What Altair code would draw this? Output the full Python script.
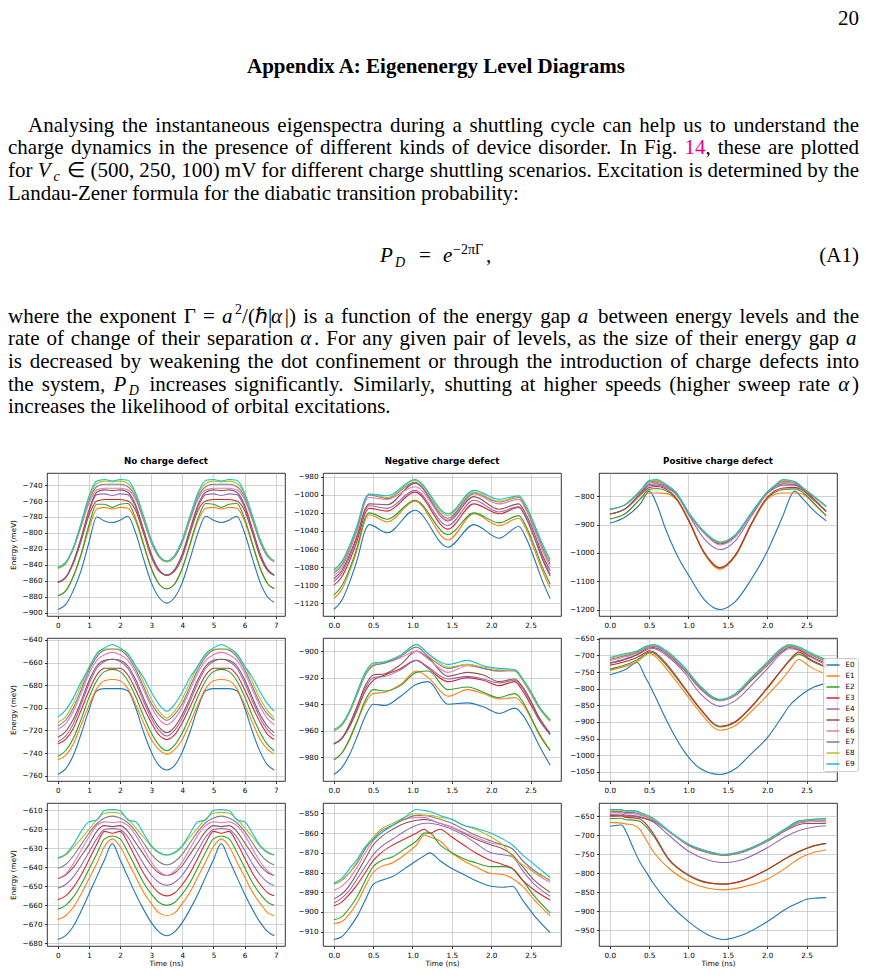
import re
import altair as alt
import pandas as pd

# ------------------------------------------------------------------ data
LEVELS = ["E0", "E1", "E2", "E3", "E4", "E5", "E6", "E7", "E8", "E9"]
COLORS = ["#1f77b4", "#ff7f0e", "#2ca02c", "#d62728", "#9467bd",
          "#8c564b", "#e377c2", "#7f7f7f", "#bcbd22", "#17becf"]
PANEL_TITLES = ["No charge defect", "Negative charge defect", "Positive charge defect"]

X_TICKS_LONG = [0, 1, 2, 3, 4, 5, 6, 7]
X_TICKS_SHORT = [0.0, 0.5, 1.0, 1.5, 2.0, 2.5]

# time samples (ns)
T_NO = [0, 0.25, 0.5, 0.75, 1.0, 1.25, 1.5, 1.75, 2.0, 2.25, 2.5, 2.75, 3.0, 3.25, 3.5,
        3.75, 4.0, 4.25, 4.5, 4.75, 5.0, 5.25, 5.5, 5.75, 6.0, 6.25, 6.5, 6.75, 6.95]
T2 = [0, 0.1, 0.2, 0.3, 0.4, 0.45, 0.68, 1.03, 1.45, 1.78, 2.1, 2.35, 2.45, 2.55, 2.65, 2.75]
T3 = [0, 0.2, 0.4, 0.5, 0.6, 0.7, 0.85, 1.0, 1.2, 1.4, 1.6, 1.8, 2.0, 2.1, 2.2, 2.35, 2.45, 2.6, 2.75]
T5 = [0, 0.1, 0.2, 0.3, 0.4, 0.5, 0.65, 0.85, 1.05, 1.2, 1.45, 1.7, 1.9, 2.1, 2.3, 2.4, 2.5, 2.6, 2.75]
T6 = [0, 0.2, 0.35, 0.45, 0.5, 0.55, 0.6, 0.72, 0.95, 1.15, 1.4, 1.6, 1.8, 2.0, 2.2, 2.28, 2.4, 2.55, 2.75]
T8 = [0, 0.1, 0.2, 0.3, 0.4, 0.5, 0.6, 0.75, 0.9, 1.05, 1.15, 1.22, 1.35, 1.5, 1.65, 1.8, 2.0, 2.15,
      2.27, 2.4, 2.55, 2.75]
T9 = [0, 0.15, 0.2, 0.3, 0.38, 0.45, 0.55, 0.75, 1.0, 1.25, 1.45, 1.7, 2.0, 2.25, 2.4, 2.5, 2.6, 2.75]

# energies (meV), one list per level E0..E9
P1 = [
    [-896, -890, -872, -847, -812, -780, -785, -787, -784, -779, -800, -832, -862, -881, -888, -881, -862, -832, -800, -779, -784, -787, -784, -779, -800, -832, -862, -881, -887],
    [-879, -873, -855, -828, -795, -770, -768, -770, -768, -769, -785, -815, -845, -864, -870, -864, -845, -815, -785, -769, -768, -770, -768, -769, -785, -815, -845, -864, -870],
    [-879, -873, -854, -826, -790, -764, -764, -768, -764, -763, -782, -813, -844, -864, -870, -864, -844, -813, -782, -763, -764, -768, -764, -763, -782, -813, -844, -864, -870],
    [-862, -856, -838, -810, -778, -760, -758, -758, -758, -760, -772, -800, -830, -848, -853, -848, -830, -800, -772, -760, -758, -758, -758, -760, -772, -800, -830, -848, -853],
    [-862, -856, -837, -808, -774, -752, -751, -753, -751, -752, -768, -797, -828, -847, -853, -847, -828, -797, -768, -752, -751, -753, -751, -752, -768, -797, -828, -847, -853],
    [-862, -856, -836, -806, -771, -749, -746, -747, -746, -749, -765, -795, -826, -846, -853, -846, -826, -795, -765, -749, -746, -747, -746, -749, -765, -795, -826, -846, -853],
    [-844, -838, -820, -792, -763, -746, -744, -744, -744, -746, -758, -784, -812, -830, -836, -830, -812, -784, -758, -746, -744, -744, -744, -746, -758, -784, -812, -830, -836],
    [-844, -838, -819, -790, -759, -742, -739, -739, -739, -742, -755, -782, -811, -830, -836, -830, -811, -782, -755, -742, -739, -739, -739, -742, -755, -782, -811, -830, -836],
    [-845, -839, -819, -789, -757, -738, -735, -736, -735, -738, -752, -780, -810, -829, -836, -829, -810, -780, -752, -738, -735, -736, -735, -738, -752, -780, -810, -829, -836],
    [-843, -837, -818, -787, -754, -735, -733, -735, -733, -734, -750, -778, -808, -828, -835, -828, -808, -778, -750, -734, -733, -735, -733, -734, -750, -778, -808, -828, -835],
]
P2 = [
    [-1127, -1117, -1097, -1071, -1039, -1033, -1042, -1017, -1058, -1033, -1048, -1035, -1049, -1071, -1095, -1115],
    [-1115, -1105, -1085, -1060, -1028, -1022, -1030, -1007, -1050, -1021, -1034, -1026, -1039, -1061, -1084, -1103],
    [-1111, -1101, -1082, -1057, -1025, -1020, -1027, -1006, -1044, -1020, -1031, -1023, -1036, -1057, -1080, -1099],
    [-1100, -1091, -1073, -1050, -1020, -1015, -1018, -997, -1038, -1010, -1021, -1014, -1027, -1048, -1071, -1090],
    [-1096, -1087, -1069, -1046, -1017, -1012, -1015, -995, -1034, -1006, -1019, -1013, -1026, -1047, -1069, -1088],
    [-1093, -1084, -1066, -1044, -1015, -1010, -1011, -987, -1029, -1002, -1016, -1010, -1023, -1043, -1066, -1084],
    [-1090, -1081, -1062, -1039, -1008, -1003, -1005, -991, -1028, -999, -1010, -1005, -1018, -1039, -1061, -1080],
    [-1087, -1078, -1059, -1036, -1005, -1000, -1004, -986, -1026, -998, -1008, -1003, -1016, -1036, -1058, -1077],
    [-1085, -1076, -1057, -1034, -1004, -999, -1003, -984, -1023, -997, -1007, -1002, -1015, -1034, -1055, -1074],
    [-1083, -1074, -1056, -1033, -1004, -999, -1001, -983, -1021, -995, -1005, -1001, -1013, -1033, -1054, -1072],
]
P3 = [
    [-895, -872, -822, -781, -830, -909, -1005, -1078, -1165, -1200, -1170, -1092, -995, -933, -868, -781, -808, -852, -886],
    [-880, -860, -806, -788, -788, -789, -813, -886, -1002, -1058, -1010, -900, -810, -792, -788, -788, -792, -828, -870],
    [-880, -860, -804, -775, -772, -778, -810, -884, -1000, -1054, -1008, -898, -806, -785, -775, -773, -785, -825, -868],
    [-862, -843, -792, -768, -765, -772, -808, -882, -998, -1052, -1005, -895, -803, -780, -770, -768, -778, -815, -853],
    [-862, -843, -788, -762, -760, -768, -795, -864, -950, -988, -955, -870, -790, -770, -760, -760, -775, -812, -853],
    [-862, -843, -785, -758, -755, -763, -792, -860, -930, -968, -940, -862, -788, -765, -755, -757, -772, -810, -852],
    [-845, -828, -779, -752, -750, -760, -790, -858, -930, -972, -942, -862, -787, -763, -750, -753, -770, -802, -836],
    [-846, -829, -777, -748, -746, -757, -789, -857, -926, -965, -937, -859, -786, -762, -746, -750, -770, -802, -836],
    [-846, -829, -776, -746, -743, -756, -789, -857, -925, -963, -935, -858, -785, -761, -743, -748, -769, -802, -835],
    [-845, -828, -775, -744, -740, -755, -789, -856, -924, -961, -934, -857, -784, -760, -740, -747, -768, -801, -834],
]
P4 = [
    [-759, -754, -742, -723, -702, -685, -683, -683, -683, -685, -700, -721, -739, -751, -755, -751, -739, -721, -700, -685, -683, -683, -683, -685, -700, -721, -739, -751, -755],
    [-746, -742, -732, -715, -698, -683, -676, -675, -676, -683, -697, -713, -728, -737, -741, -737, -728, -713, -697, -683, -676, -675, -676, -683, -697, -713, -728, -737, -741],
    [-743, -738, -727, -710, -691, -676, -668, -666, -668, -676, -690, -707, -722, -733, -738, -733, -722, -707, -690, -676, -668, -666, -668, -676, -690, -707, -722, -733, -738],
    [-732, -728, -718, -702, -685, -671, -665, -665, -665, -671, -684, -699, -713, -724, -728, -724, -713, -699, -684, -671, -665, -665, -665, -671, -684, -699, -713, -724, -728],
    [-730, -725, -714, -697, -679, -665, -659, -657, -659, -665, -678, -694, -709, -720, -725, -720, -709, -694, -678, -665, -659, -657, -659, -665, -678, -694, -709, -720, -725],
    [-726, -721, -710, -694, -676, -663, -658, -657, -658, -663, -675, -691, -706, -717, -722, -717, -706, -691, -675, -663, -658, -657, -658, -663, -675, -691, -706, -717, -722],
    [-719, -714, -703, -687, -670, -658, -653, -651, -653, -658, -669, -684, -699, -710, -715, -710, -699, -684, -669, -658, -653, -651, -653, -658, -669, -684, -699, -710, -715],
    [-716, -711, -700, -684, -667, -655, -649, -648, -649, -655, -666, -681, -696, -706, -711, -706, -696, -681, -666, -655, -649, -648, -649, -655, -666, -681, -696, -706, -711],
    [-713, -708, -696, -680, -664, -653, -648, -648, -648, -653, -663, -677, -692, -703, -709, -703, -692, -677, -663, -653, -648, -648, -648, -653, -663, -677, -692, -703, -709],
    [-708, -702, -691, -677, -665, -652, -647, -644, -647, -652, -663, -673, -686, -697, -703, -697, -686, -673, -663, -652, -647, -644, -647, -652, -663, -673, -686, -697, -703],
]
P5 = [
    [-993, -988, -978, -964, -949, -940, -941, -934, -925, -923, -940, -939, -942, -947, -943, -948, -958, -970, -986],
    [-982, -977, -967, -953, -939, -932, -931, -925, -915, -920, -934, -929, -932, -936, -935, -940, -950, -962, -975],
    [-982, -977, -966, -952, -937, -929, -930, -926, -916, -915, -929, -927, -931, -935, -932, -938, -949, -961, -975],
    [-970, -966, -957, -944, -930, -922, -918, -913, -907, -913, -923, -920, -922, -926, -923, -930, -940, -951, -963],
    [-970, -966, -956, -942, -928, -920, -919, -914, -907, -912, -921, -919, -921, -924, -922, -928, -938, -950, -963],
    [-970, -966, -955, -941, -926, -918, -917, -910, -900, -905, -919, -916, -918, -923, -921, -927, -937, -949, -962],
    [-960, -956, -946, -932, -918, -911, -909, -905, -900, -906, -916, -911, -913, -915, -915, -922, -932, -942, -953],
    [-960, -956, -946, -932, -918, -911, -909, -904, -897, -904, -913, -910, -913, -915, -914, -921, -930, -941, -952],
    [-960, -956, -946, -931, -917, -910, -908, -903, -895, -902, -912, -910, -912, -914, -915, -922, -931, -942, -953],
    [-959, -955, -945, -930, -916, -909, -908, -903, -895, -902, -910, -907, -911, -913, -914, -921, -930, -941, -952],
]
P6 = [
    [-758, -742, -721, -765, -786, -810, -835, -895, -990, -1040, -1058, -1040, -995, -948, -880, -852, -825, -800, -784],
    [-745, -732, -718, -700, -693, -698, -708, -740, -810, -872, -925, -910, -868, -820, -768, -745, -712, -735, -756],
    [-741, -728, -713, -696, -690, -692, -700, -730, -800, -862, -915, -900, -855, -800, -740, -718, -696, -715, -737],
    [-729, -718, -705, -692, -686, -688, -696, -725, -797, -860, -913, -898, -853, -797, -738, -715, -690, -712, -734],
    [-724, -712, -698, -685, -680, -679, -682, -700, -752, -815, -853, -835, -790, -740, -690, -680, -684, -705, -728],
    [-722, -710, -696, -682, -677, -676, -678, -695, -745, -800, -836, -820, -775, -730, -685, -676, -682, -702, -724],
    [-716, -704, -692, -679, -675, -673, -675, -692, -742, -797, -835, -818, -772, -727, -681, -673, -680, -698, -719],
    [-712, -700, -690, -677, -673, -671, -673, -690, -740, -795, -834, -816, -770, -724, -679, -671, -678, -696, -716],
    [-709, -697, -688, -675, -671, -669, -671, -688, -738, -793, -833, -815, -768, -722, -677, -669, -676, -694, -714],
    [-706, -694, -686, -673, -669, -667, -669, -686, -736, -792, -832, -814, -766, -720, -675, -667, -674, -692, -712],
]
P7 = [
    [-678, -676, -671, -663, -654, -645, -636, -627.5, -636, -645, -654, -662, -669, -674, -676, -674, -669, -662, -654, -645, -636, -627.5, -636, -645, -654, -662, -669, -674, -676],
    [-667.5, -665.5, -661, -654, -646, -638, -629, -625, -629, -637, -645, -653, -659, -664, -665.5, -664, -659, -653, -645, -637, -629, -625, -629, -637, -645, -653, -659, -664, -665.5],
    [-662, -660, -655.5, -649, -641, -633, -625, -623.5, -625, -632, -640, -648, -654, -658.5, -660, -658.5, -654, -648, -640, -632, -625, -623.5, -625, -632, -640, -648, -654, -658.5, -660],
    [-657, -655, -650.5, -644, -636, -628, -621, -622, -621, -627, -635, -643, -649, -653.5, -655, -653.5, -649, -643, -635, -627, -621, -622, -621, -627, -635, -643, -649, -653.5, -655],
    [-651, -649, -645, -639, -632, -625, -620, -619.5, -620, -624, -631, -638, -644, -648, -649.5, -648, -644, -638, -631, -624, -620, -619.5, -620, -624, -631, -638, -644, -648, -649.5],
    [-646, -644, -640, -634, -628, -621, -618, -618.5, -618, -621, -627, -633, -639, -643, -644.3, -643, -639, -633, -627, -621, -618, -618.5, -618, -621, -627, -633, -639, -643, -644.3],
    [-646, -643.5, -638, -631, -624, -618, -616, -616.5, -616, -618, -623, -630, -637, -642, -644.3, -642, -637, -630, -623, -618, -616, -616.5, -616, -618, -623, -630, -637, -642, -644.3],
    [-640.5, -638.5, -634, -628, -622, -617, -614, -613, -614, -616.5, -621, -627, -633, -637, -638.7, -637, -633, -627, -621, -616.5, -614, -613, -614, -616.5, -621, -627, -633, -637, -638.7],
    [-635.5, -633.5, -629.5, -625, -620, -615, -611.5, -611, -611.5, -614.5, -619, -624, -629, -632.5, -633.5, -632.5, -629, -624, -619, -614.5, -611.5, -611, -611.5, -614.5, -619, -624, -629, -632.5, -633.5],
    [-635, -633, -628, -621, -616, -615, -610, -609.5, -610, -615, -616, -622, -628.5, -632, -633.5, -632, -628.5, -622, -616, -615, -610, -609.5, -610, -615, -616, -622, -628.5, -632, -633.5],
]
P8 = [
    [-914, -912.6, -908, -902, -894, -886, -884, -882, -878, -874, -871.5, -870, -874, -878, -881, -884, -887, -887.5, -887, -894, -902, -910.5],
    [-906, -905, -901, -895, -887, -880, -877, -875, -871, -866, -861, -862, -864, -870, -874, -877, -880.5, -881, -883, -887, -894, -902],
    [-904, -902.5, -898, -892, -884, -877, -874, -872, -868, -864, -860, -860, -866, -870, -873, -875, -877, -877, -878, -884, -892, -900.5],
    [-897, -895, -891, -886, -880, -874, -870, -866, -863, -860, -858, -860, -858, -862, -866, -870, -874, -876, -878, -884, -889, -894],
    [-895.5, -893, -889, -883, -877, -871, -867, -863, -859, -856, -855, -855, -856, -858, -861, -865, -870, -871, -872, -879, -886, -892],
    [-893.5, -891, -886.5, -880, -873, -866, -862, -858, -855, -853.5, -853, -853.5, -855, -857, -860, -863, -866, -868, -871, -877, -884, -890],
    [-889, -887, -883, -877, -870, -864, -860, -856, -853, -852, -852, -853, -855, -857, -859.5, -862, -865, -866, -868, -874, -880, -885],
    [-886, -884, -880, -875, -868, -863, -859, -856, -853, -851, -851, -851.5, -853, -855, -858, -861, -864, -866, -868, -874, -879, -884],
    [-886, -884, -880, -874, -867, -862, -858, -855, -852, -850, -851, -851, -852, -853, -856, -858, -862, -866, -872, -876, -880, -883.5],
    [-885.5, -883, -878, -873, -867, -863.5, -860, -856, -852, -848, -848.5, -849, -851, -853, -856, -857.5, -860, -863, -866, -871, -876, -882.5],
]
P9 = [
    [-676, -673, -688, -735, -770, -793, -826, -879, -928, -963, -975, -962, -928, -893, -878, -869, -866, -864.5],
    [-666, -668, -670, -673, -684, -708, -742, -787, -822, -840, -844, -836, -816, -784, -762, -752, -745, -738],
    [-656, -655, -659, -660, -663, -675, -700, -765, -806, -826, -829, -820, -791, -760, -744, -735, -728, -722],
    [-650, -649, -653, -654, -657, -668, -695, -763, -805, -825, -829, -819, -790, -759, -743, -734, -727, -721],
    [-645, -644, -647, -648, -651, -656, -665, -700, -742, -765, -772, -763, -733, -702, -688, -682, -678, -675],
    [-648, -647, -650, -650, -653, -656, -662, -690, -727, -746, -753, -744, -716, -686, -672, -669, -669, -668],
    [-641, -640, -643, -643, -647, -651, -660, -690, -726, -745, -752, -743, -715, -684, -668, -665, -664, -663],
    [-638, -637, -640, -640, -644, -649, -658, -689, -725, -744, -751.5, -742, -714, -682, -665, -662, -660, -660],
    [-635, -634, -637, -637, -641, -647, -657, -689, -724, -743, -751, -741, -713, -681, -663, -660, -658, -657],
    [-632, -632, -635, -635, -639, -645, -655, -688, -723, -742, -750, -740, -712, -680, -662, -659, -657, -655],
]

Y_TICKS = [
    [-900, -880, -860, -840, -820, -800, -780, -760, -740],
    [-1120, -1100, -1080, -1060, -1040, -1020, -1000, -980],
    [-1200, -1100, -1000, -900, -800],
    [-760, -740, -720, -700, -680, -660, -640],
    [-980, -960, -940, -920, -900],
    [-1050, -1000, -950, -900, -850, -800, -750, -700, -650],
    [-680, -670, -660, -650, -640, -630, -620, -610],
    [-910, -900, -890, -880, -870, -860, -850],
    [-950, -900, -850, -800, -750, -700, -650],
]

PANELS = [(T_NO, P1), (T2, P2), (T3, P3),
          (T_NO, P4), (T5, P5), (T6, P6),
          (T_NO, P7), (T8, P8), (T9, P9)]

# ------------------------------------------------------------------ text
PAGE_NO = "20"
HEADING = "Appendix A: Eigenenergy Level Diagrams"
PARA1 = [
    "Analysing the instantaneous eigenspectra during a shuttling cycle can help us to understand the",
    "charge dynamics in the presence of different kinds of device disorder. In Fig. {m:14}, these are plotted",
    "for {i:V}{sub:c} ∈ (500, 250, 100) mV for different charge shuttling scenarios. Excitation is determined by the",
    "Landau-Zener formula for the diabatic transition probability:",
]
EQUATION = [("P", "i"), ("D", "sub"), ("=", "n"), ("e", "i"), ("−2πΓ", "sup"), (",", "n")]
EQ_LABEL = "(A1)"
PARA2 = [
    "where the exponent Γ = {i:a}{sup:2}/(ℏ|{i:α}|) is a function of the energy gap {i:a} between energy levels and the",
    "rate of change of their separation {i:α}. For any given pair of levels, as the size of their energy gap {i:a}",
    "is decreased by weakening the dot confinement or through the introduction of charge defects into",
    "the system, {i:P}{sub:D} increases significantly. Similarly, shutting at higher speeds (higher sweep rate {i:α})",
    "increases the likelihood of orbital excitations.",
]

SERIF = "Liberation Serif"
SANS = "DejaVu Sans"
BODY = 21
SMALL = 14
# the text block is laid out in page pixels; its origin coincides with the
# top-left of the first panel column (page x = 47) and the page top (y = 8)
ORIGIN_X, ORIGIN_Y = 47, 8
TEXT_LEFT, TEXT_RIGHT = 8, 859

W_N = {' ': 250, '(': 333, ')': 333, ',': 250, '-': 333, '.': 250, '/': 278, ':': 278, '=': 564,
       '|': 200, 'A': 722, 'E': 611, 'F': 556, 'I': 333, 'L': 611, 'S': 556, 'V': 722, 'Z': 611,
       'a': 444, 'b': 500, 'c': 444, 'd': 500, 'e': 444, 'f': 333, 'g': 500, 'h': 500, 'i': 278,
       'j': 278, 'k': 500, 'l': 278, 'm': 778, 'n': 500, 'o': 500, 'p': 500, 'q': 500, 'r': 333,
       's': 389, 't': 278, 'u': 500, 'v': 500, 'w': 722, 'x': 500, 'y': 500, 'z': 444,
       'Γ': 578, 'α': 520, 'ℏ': 560, '∈': 850, '−': 564, 'π': 520}
W_I = {'a': 500, 'P': 611, 'V': 640, 'D': 722, 'c': 444, 'e': 444, 'α': 540}
TOKEN = re.compile(r"\{(\w+):([^}]*)\}|([^{]+)")


def piece_width(text, style):
    size = SMALL if style in ("sub", "sup") else BODY
    tab = W_I if style in ("i", "sub") else {}
    w = sum(tab.get(ch, W_N.get(ch, 500)) for ch in text) * size / 1000.0
    return w + (2.5 if style in ("i", "sub") else 0.0)


def parse_word(word):
    out = []
    for m in TOKEN.finditer(word):
        if m.group(1):
            out.append((m.group(2), m.group(1)))
        else:
            out.append((m.group(3), "n"))
    return out


DY = {"sub": 4.5, "sup": -8.5}


def set_line(line, left, right, base, justify, rows):
    words = [parse_word(w) for w in line.split(" ")]
    widths = [sum(piece_width(t, s) for t, s in wd) for wd in words]
    if justify and len(words) > 1:
        gap = (right - left - sum(widths)) / (len(words) - 1)
    else:
        gap = W_N[' '] * BODY / 1000.0
    x = left
    for wd, ww in zip(words, widths):
        px = x
        for t, s in wd:
            rows.append({"text": t, "x": px - ORIGIN_X, "y": base + DY.get(s, 0) - ORIGIN_Y, "style": s})
            px += piece_width(t, s)
        x += ww + gap


rows = []
rows.append({"text": PAGE_NO, "x": TEXT_RIGHT - ORIGIN_X, "y": 25 - ORIGIN_Y, "style": "r"})
rows.append({"text": HEADING, "x": 436 - ORIGIN_X, "y": 73 - ORIGIN_Y, "style": "b"})
for k, (line, base) in enumerate(zip(PARA1, [131.7, 154.3, 176.9, 199.5])):
    set_line(line, 28 if k == 0 else TEXT_LEFT, TEXT_RIGHT, base, k < len(PARA1) - 1, rows)
for k, (line, base) in enumerate(zip(PARA2, [322.7, 345.3, 367.9, 390.5, 413.1])):
    set_line(line, TEXT_LEFT, TEXT_RIGHT, base, k < len(PARA2) - 1, rows)
for (t, s), xp in zip(EQUATION, [380, 395, 419, 443, 453, 486]):
    rows.append({"text": t, "x": xp - ORIGIN_X, "y": 262 + DY.get(s, 0) - ORIGIN_Y, "style": s})
rows.append({"text": EQ_LABEL, "x": TEXT_RIGHT - ORIGIN_X, "y": 262 - ORIGIN_Y, "style": "r"})
df_text = pd.DataFrame(rows)

STYLE = {
    "n": dict(font=SERIF, fontSize=BODY, color="#000000", align="left"),
    "i": dict(font=SERIF, fontSize=BODY, fontStyle="italic", color="#000000", align="left"),
    "sub": dict(font=SERIF, fontSize=SMALL, fontStyle="italic", color="#000000", align="left"),
    "sup": dict(font=SERIF, fontSize=SMALL, color="#000000", align="left"),
    "m": dict(font=SERIF, fontSize=BODY, color="#e5007d", align="left"),
    "b": dict(font=SERIF, fontSize=BODY, fontWeight="bold", color="#000000", align="center"),
    "r": dict(font=SERIF, fontSize=BODY, color="#000000", align="right"),
}
text_layers = []
for st, kw in STYLE.items():
    sub = df_text[df_text["style"] == st]
    if len(sub) == 0:
        continue
    text_layers.append(
        alt.Chart(sub).mark_text(baseline="alphabetic", **kw).encode(
            x=alt.X("x:Q", scale=None, axis=None),
            y=alt.Y("y:Q", scale=None, axis=None),
            text="text:N",
        )
    )
text_chart = alt.layer(*text_layers).properties(width=790, height=455)

# ------------------------------------------------------------------ panels
AXIS_STYLE = dict(grid=True, gridColor="#b0b0b0", gridWidth=0.8, gridOpacity=0.7, domain=False,
                  tickSize=2.5, tickWidth=0.8, tickColor="#000000", labelFont=SANS,
                  labelFontSize=7.25, labelColor="#000000", labelPadding=2.5, titleFont=SANS,
                  titleFontSize=7.25, titleFontWeight="normal", titleColor="#000000",
                  labelFlush=False, labelOverlap=False)


def make_panel(idx):
    t, levels = PANELS[idx]
    row, col = divmod(idx, 3)
    for v in levels:
        assert len(v) == len(t), (idx, len(v), len(t))
    recs = [{"t": tt, "E": vv, "level": LEVELS[i]}
            for i, vals in enumerate(levels) for tt, vv in zip(t, vals)]
    df = pd.DataFrame(recs)
    lo = min(min(v) for v in levels)
    hi = max(max(v) for v in levels)
    ypad = 0.05 * (hi - lo)
    xpad = 0.05 * (t[-1] - t[0])
    xaxis = alt.Axis(values=X_TICKS_LONG if col == 0 else X_TICKS_SHORT,
                     format="d" if col == 0 else ".1f",
                     title="Time (ns)" if row == 2 else None, titlePadding=1.5, **AXIS_STYLE)
    yaxis = alt.Axis(values=Y_TICKS[idx], format="d",
                     title="Energy (meV)" if col == 0 else None, titlePadding=5, **AXIS_STYLE)
    if idx == 5:
        legend = alt.Legend(orient="none", legendX=224, legendY=20, title=None,
                            symbolType="stroke", symbolSize=169, symbolStrokeWidth=1.5,
                            symbolOpacity=1, labelFont=SANS, labelFontSize=7.25,
                            labelColor="#000000", padding=2.5, strokeColor="#cccccc",
                            fillColor="rgba(255,255,255,0.8)", cornerRadius=2,
                            clipHeight=9, rowPadding=2, labelOffset=5)
    else:
        legend = None
    ch = alt.Chart(df).mark_line(interpolate="monotone", strokeWidth=1.1).encode(
        x=alt.X("t:Q", scale=alt.Scale(domain=[t[0] - xpad, t[-1] + xpad], nice=False, zero=False),
                axis=xaxis),
        y=alt.Y("E:Q", scale=alt.Scale(domain=[lo - ypad, hi + ypad], nice=False, zero=False),
                axis=yaxis),
        color=alt.Color("level:N", scale=alt.Scale(domain=LEVELS, range=COLORS), legend=legend),
    ).properties(width=238, height=143,
                 view=alt.ViewBackground(stroke="#000000", strokeWidth=0.8))
    if row == 0:
        ch = ch.properties(title=alt.TitleParams(
            text=PANEL_TITLES[col], font=SANS, fontSize=8.7, fontWeight="bold", color="#000000",
            anchor="middle", frame="group", offset=0, baseline="alphabetic"))
    return ch


panels = [make_panel(i) for i in range(9)]
grid = alt.concat(*panels, columns=3, spacing={"row": 22, "column": 38},
                  bounds="flush").resolve_scale(x="independent", y="independent",
                                                color="independent")

chart = alt.vconcat(text_chart, grid, spacing=10, bounds="flush").properties(
    padding={"left": 0, "top": 0, "right": 0, "bottom": 0}
).configure_view(stroke=None)

chart.save("out.html", embed_options={"renderer": "svg", "actions": False})
